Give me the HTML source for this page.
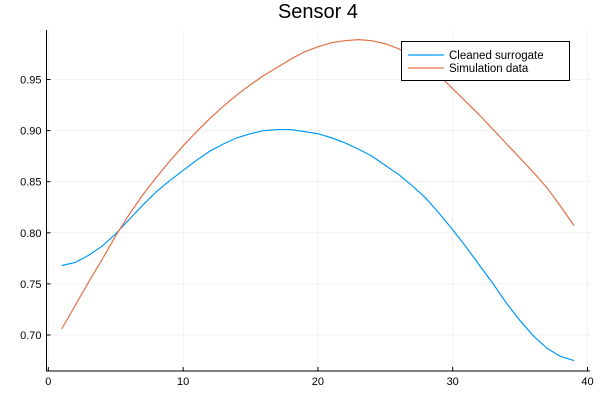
<!DOCTYPE html>
<html><head><meta charset="utf-8"><style>body{margin:0;background:#fff}svg{display:block;font-family:"Liberation Sans","DejaVu Sans",sans-serif}</style></head>
<body>
<svg id="chart" width="600" height="400">
<text x="318" y="18" text-anchor="middle" font-size="20">Sensor 4</text>
<g id="grid"></g><g id="axes"></g><g id="series"></g>
<g>
<rect x="401.5" y="41.5" width="168" height="39" fill="#fff" stroke="#000" stroke-width="1"/>
<line x1="408" y1="55" x2="444" y2="55" stroke="#009af9" stroke-width="1.2"/>
<text x="449" y="59" font-size="11.5">Cleaned surrogate</text>
<line x1="408" y1="68" x2="444" y2="68" stroke="#e26f46" stroke-width="1.2"/>
<text x="449" y="72" font-size="11.5">Simulation data</text>
</g>
</svg>
<script>
const xs=[1,2,3,4,5,6,7,8,9,10,11,12,13,14,15,16,17,18,19,20,21,22,23,24,25,26,27,28,29,30,31,32,33,34,35,36,37,38,39];
const cleaned=[0.768,0.771,0.778,0.787,0.799,0.813,0.827,0.840,0.851,0.861,0.871,0.880,0.887,0.893,0.897,0.900,0.901,0.901,0.899,0.897,0.893,0.888,0.882,0.875,0.866,0.857,0.846,0.834,0.819,0.803,0.786,0.768,0.750,0.731,0.714,0.699,0.687,0.679,0.675];
const simulation=[0.706,0.729,0.752,0.774,0.797,0.818,0.837,0.854,0.870,0.885,0.899,0.912,0.924,0.935,0.945,0.954,0.962,0.970,0.977,0.982,0.986,0.988,0.989,0.988,0.985,0.980,0.973,0.965,0.954,0.941,0.928,0.915,0.901,0.887,0.873,0.859,0.844,0.826,0.807];
const xTicks=[0,10,20,30,40];
const yTicks=[0.70,0.75,0.80,0.85,0.90,0.95];
const yLabels=["0.70","0.75","0.80","0.85","0.90","0.95"];
const X=v=>48.3+v*13.48;
const Y=v=>335-(v-0.70)*1022;
const NS="http://www.w3.org/2000/svg";
function mk(t,a,p){const e=document.createElementNS(NS,t);for(const k in a)e.setAttribute(k,a[k]);p.appendChild(e);return e;}
const grid=document.getElementById('grid'),axes=document.getElementById('axes'),ser=document.getElementById('series');
const L=46.5,R=590,T=30,B=371;
xTicks.forEach(t=>{const g=mk('line',{x1:X(t),x2:X(t),y1:T,y2:B,stroke:'#000','stroke-opacity':0.1,'stroke-width':0.5},grid);


const k=mk('line',{x1:X(t),x2:X(t),y1:B,y2:B-4,stroke:'#000'},axes);


const tx=mk('text',{x:X(t),y:B+14,'text-anchor':'middle','font-size':11},axes);tx.textContent=t;

});
yTicks.forEach((t,i)=>{const g=mk('line',{x1:L,x2:R,y1:Y(t),y2:Y(t),stroke:'#000','stroke-opacity':0.1,'stroke-width':0.5},grid);


const k=mk('line',{x1:L,x2:L+4,y1:Y(t),y2:Y(t),stroke:'#000'},axes);


const tx=mk('text',{x:L-5,y:Y(t)+4,'text-anchor':'end','font-size':11},axes);tx.textContent=yLabels[i];

});
const ax=mk('path',{d:`M${L},${T}V${B}H${R}`,fill:'none',stroke:'#000','stroke-width':1},axes);


function line(vals,c,n){const p=mk('polyline',{points:xs.map((x,i)=>X(x)+','+Y(vals[i])).join(' '),fill:'none',stroke:c,'stroke-width':1.2},ser);

}
line(cleaned,'#009af9','cleaned-surrogate-line');
line(simulation,'#e26f46','simulation-data-line');
</script>
</body></html>
